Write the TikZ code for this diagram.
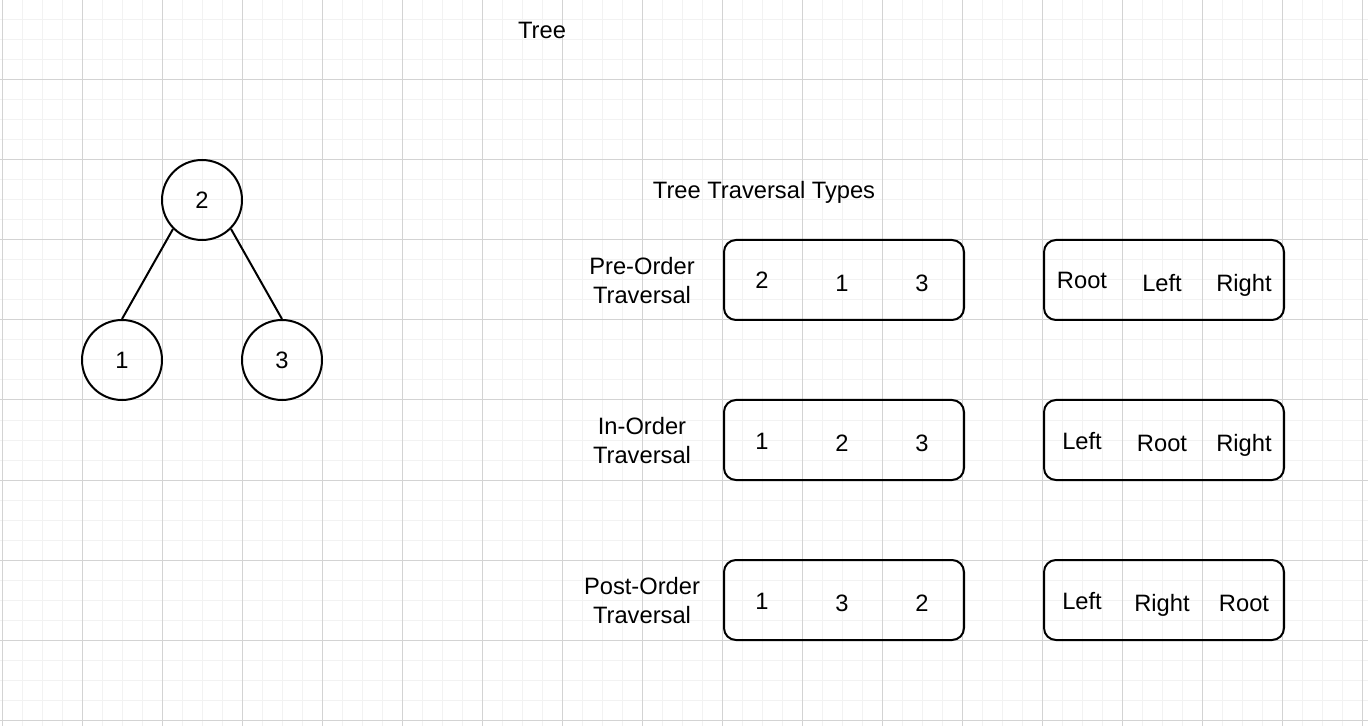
\documentclass[tikz,border=0pt]{standalone}
\usepackage{fontspec}
\setmainfont{Liberation Sans}
\definecolor{gridminor}{HTML}{F2F2F2}
\definecolor{gridmajor}{HTML}{D3D3D3}
\begin{document}
\begin{tikzpicture}
    [
        x=0.5pt, y=-0.5pt,
        font=\fontsize{11.85}{14.35}\selectfont,
        treenode/.style={circle, draw, line width=1pt, minimum size=40pt, inner sep=0pt},
        orderbox/.style={rectangle, draw, rounded corners=6pt, line width=1pt, minimum width=120pt, minimum height=40pt},
        word/.style={anchor=base, inner sep=0pt},
        caption/.style={align=center, inner sep=0pt},
        minorline/.style={draw=gridminor, line width=0.5pt},
        majorline/.style={draw=gridmajor, line width=0.5pt},
    ]
    \fill [white] (0,0) rectangle (1368,726);
    \useasboundingbox (0,0) rectangle (1368,726);
    % background grid
    \foreach \x in {2,22,...,1362} \draw [minorline] (\x,0) -- (\x,726);
    \foreach \y in {0,20,...,720} \draw [minorline] (0,\y) -- (1368,\y);
    \foreach \x in {2,82,...,1362} \draw [majorline] (\x,0) -- (\x,726);
    \foreach \y in {0,80,...,720} \draw [majorline] (0,\y) -- (1368,\y);

    % the tree
    \node (title) at (542,39) [word] {Tree};
    \node (troot) at (202,200) [treenode] {2};
    \node (tleft) at (122,360) [treenode] {1};
    \node (tright) at (282,360) [treenode] {3};
    \draw [line width=1pt] (troot.south west) -- (tleft.north);
    \draw [line width=1pt] (troot.south east) -- (tright.north);

    % traversal types
    \node (types) at (764,198.5) [word] {Tree Traversal Types};

    \node (prelabel) at (642,280.5) [caption] {Pre-Order\\Traversal};
    \node (preseq) at (844,280) [orderbox] {};
    \node (preword) at (1164,280) [orderbox] {};
    \node (pre1) at (762,289) [word] {2};
    \node (pre2) at (842,291.5) [word] {1};
    \node (pre3) at (922,291.5) [word] {3};
    \node (prew1) at (1082,289) [word] {Root};
    \node (prew2) at (1162,291.5) [word] {Left};
    \node (prew3) at (1244,291.5) [word] {Right};

    \node (inlabel) at (642,440.5) [caption] {In-Order\\Traversal};
    \node (inseq) at (844,440) [orderbox] {};
    \node (inword) at (1164,440) [orderbox] {};
    \node (in1) at (762,449) [word] {1};
    \node (in2) at (842,451.5) [word] {2};
    \node (in3) at (922,451.5) [word] {3};
    \node (inw1) at (1082,449) [word] {Left};
    \node (inw2) at (1162,451.5) [word] {Root};
    \node (inw3) at (1244,451.5) [word] {Right};

    \node (postlabel) at (642,600.5) [caption] {Post-Order\\Traversal};
    \node (postseq) at (844,600) [orderbox] {};
    \node (postword) at (1164,600) [orderbox] {};
    \node (post1) at (762,609) [word] {1};
    \node (post2) at (842,611.5) [word] {3};
    \node (post3) at (922,611.5) [word] {2};
    \node (postw1) at (1082,609) [word] {Left};
    \node (postw2) at (1162,611.5) [word] {Right};
    \node (postw3) at (1244,611.5) [word] {Root};
\end{tikzpicture}
\end{document}
